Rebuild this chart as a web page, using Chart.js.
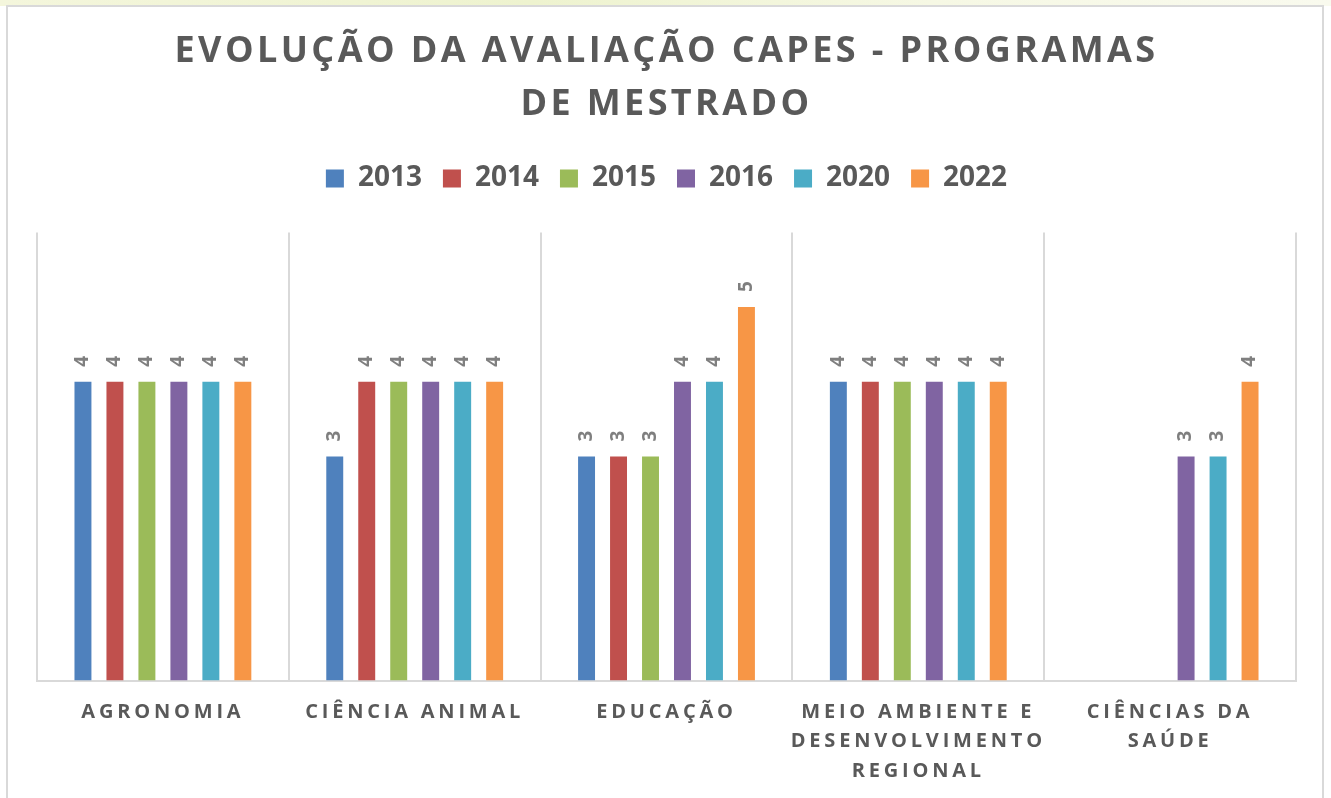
<!DOCTYPE html>
<html lang="pt">
<head>
  <meta charset="UTF-8" />
  <title>Evolução da avaliação CAPES - Programas de Mestrado</title>
  <style>
    * { margin: 0; padding: 0; box-sizing: border-box; }
    body {
      width: 1331px; height: 798px; overflow: hidden;
      background: #fff;
      font-family: 'Open Sans', sans-serif;
    }
    .strip {
      position: absolute; left: 0; top: 0; width: 1331px; height: 6px;
      background: linear-gradient(90deg, #f4f6dc, #eef3cf 40%, #f6f8e4 70%, #f9faee);
    }
    .frame {
      position: absolute; left: 6px; top: 5px; width: 1318px; height: 820px;
      border: 2px solid #d9d9d9; background: #fff;
    }
    #wrap { position: absolute; left: 0; top: 0; width: 1331px; height: 803px; }
  </style>
</head>
<body>
  <div class="strip"></div>
  <div class="frame"></div>
  <div id="wrap"><canvas id="capesChart"></canvas></div>
  <script src="https://cdn.jsdelivr.net/npm/chart.js"></script>
  <script>
    const categories = [
      'AGRONOMIA',
      'CIÊNCIA ANIMAL',
      'EDUCAÇÃO',
      ['MEIO AMBIENTE E', 'DESENVOLVIMENTO', 'REGIONAL'],
      ['CIÊNCIAS DA', 'SAÚDE']
    ];
    const years = ['2013', '2014', '2015', '2016', '2020', '2022'];
    const v2013 = [4, 3, 3, 4, null];
    const v2014 = [4, 4, 3, 4, null];
    const v2015 = [4, 4, 3, 4, null];
    const v2016 = [4, 4, 4, 4, 3];
    const v2020 = [4, 4, 4, 4, 3];
    const v2022 = [4, 4, 5, 4, 4];
    const colors = ['#4F81BD', '#C0504D', '#9BBB59', '#8064A2', '#4BACC6', '#F79646'];

    const series = [v2013, v2014, v2015, v2016, v2020, v2022];
    const textGray = '#595959';
    const FONT = "'Open Sans'";

    // letter spacing: x labels get it globally, title its own, legend none
    const spacing = {
      id: 'spacing',
      beforeInit(chart) {
        const t = chart.titleBlock, lg = chart.legend;
        const td = t.draw;
        t.draw = function () { const s = this.ctx.letterSpacing; this.ctx.letterSpacing = '3.4px'; td.apply(this, arguments); this.ctx.letterSpacing = s; };
        const ld = lg.draw;
        lg.draw = function () { const s = this.ctx.letterSpacing; this.ctx.letterSpacing = '0px'; ld.apply(this, arguments); this.ctx.letterSpacing = s; };
        const lf = lg.fit;
        lg.fit = function () { lf.apply(this, arguments); this.height += 30; };
      },
      beforeDraw(chart) { chart.ctx.letterSpacing = '3.8px'; },
      afterDraw(chart) { chart.ctx.letterSpacing = '0px'; }
    };

    const barLabels = {
      id: 'barLabels',
      afterDatasetsDraw(chart) {
        const ctx = chart.ctx;
        ctx.save();
        ctx.letterSpacing = '0px';
        ctx.font = 'bold 19px ' + FONT;
        ctx.fillStyle = '#7f7f7f';
        ctx.textAlign = 'left';
        ctx.textBaseline = 'middle';
        chart.data.datasets.forEach((ds, i) => {
          chart.getDatasetMeta(i).data.forEach((bar, j) => {
            const v = ds.data[j];
            if (v == null) return;
            ctx.save();
            ctx.translate(bar.x, bar.y - 15);
            ctx.rotate(-Math.PI / 2);
            ctx.fillText(String(v), 0, 0);
            ctx.restore();
          });
        });
        ctx.restore();
      }
    };

    new Chart(document.getElementById('capesChart'), {
      type: 'bar',
      data: {
        labels: categories,
        datasets: years.map((y, i) => ({
          label: y,
          data: series[i],
          backgroundColor: colors[i],
          categoryPercentage: 0.762,
          barPercentage: 0.53
        }))
      },
      options: {
        responsive: true,
        maintainAspectRatio: false,
        animation: false,
        layout: { padding: { left: 37, right: 35, top: 0, bottom: 0 } },
        plugins: {
          title: {
            display: true,
            text: ['EVOLUÇÃO DA AVALIAÇÃO CAPES - PROGRAMAS', 'DE MESTRADO'],
            color: textGray,
            font: { family: FONT, size: 36, weight: 'bold', lineHeight: 1.45 },
            padding: { top: 26, bottom: 13 }
          },
          legend: {
            labels: {
              color: textGray,
              font: { family: FONT, size: 28, weight: 'bold' },
              boxWidth: 18, boxHeight: 18,
              padding: 21
            }
          },
          tooltip: { enabled: false }
        },
        scales: {
          x: {
            grid: { display: true, offset: true, color: '#d9d9d9', lineWidth: 2, drawTicks: false },
            border: { color: '#d9d9d9', width: 2 },
            ticks: {
              color: textGray,
              font: { family: FONT, size: 20, weight: 'bold', lineHeight: 1.475 },
              padding: 17,
              maxRotation: 0,
              autoSkip: false
            }
          },
          y: { display: false, min: 0, max: 6 }
        }
      },
      plugins: [spacing, barLabels]
    });
  </script>
</body>
</html>
